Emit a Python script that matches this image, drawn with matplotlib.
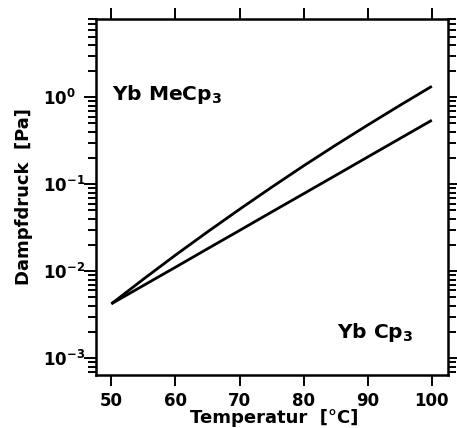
import numpy as np
import matplotlib
matplotlib.use("Agg")
import matplotlib.pyplot as plt
from matplotlib.ticker import LogLocator, FixedLocator, NullFormatter

# temperature grid [°C] and vapour pressures [Pa]
temp = [50, 55, 60, 65, 70, 75, 80, 85, 90, 95, 100]
p_mecp3 = [0.00421, 0.00809, 0.0153, 0.0283, 0.0515, 0.0923, 0.163, 0.282, 0.480, 0.807, 1.34]
p_cp3 = [0.00421, 0.00684, 0.0111, 0.0181, 0.0294, 0.0479, 0.0778, 0.1265, 0.206, 0.335, 0.545]
x_ticks = [50, 60, 70, 80, 90, 100]

plt.rcParams["font.family"] = ["DejaVu Sans"]
plt.rcParams["font.weight"] = "bold"
plt.rcParams["axes.labelweight"] = "bold"
plt.rcParams["mathtext.fontset"] = "dejavusans"
plt.rcParams["mathtext.default"] = "bf"

fig = plt.figure(figsize=(4.57, 4.28), dpi=100)
ax = fig.add_axes([0.210, 0.124, 0.770, 0.832])

ax.plot(temp, p_mecp3, color="black", lw=2.0, solid_capstyle="butt")
ax.plot(temp, p_cp3, color="black", lw=2.0, solid_capstyle="butt")

ax.set_yscale("log")
ax.set_xlim(47.6, 102.5)
ax.set_ylim(6.4e-4, 8.0)

ax.xaxis.set_major_locator(FixedLocator(x_ticks))
ax.yaxis.set_major_locator(LogLocator(base=10, numticks=10))
ax.yaxis.set_minor_locator(LogLocator(base=10, subs=np.arange(2, 10), numticks=10))
ax.yaxis.set_minor_formatter(NullFormatter())

for s in ax.spines.values():
    s.set_linewidth(1.8)

ax.tick_params(axis="both", which="both", direction="out", width=1.4,
               top=True, right=True, labeltop=False, labelright=False)
ax.tick_params(axis="x", which="major", length=8, pad=4, labelsize=12)
ax.tick_params(axis="y", which="major", length=9, pad=29, labelsize=12)
ax.tick_params(axis="y", which="minor", length=6)
for lab in ax.get_yticklabels():
    lab.set_horizontalalignment("left")

ax.set_xlabel("Temperatur  [°C]", fontsize=13)
ax.set_ylabel("Dampfdruck  [Pa]", fontsize=13)
ax.xaxis.set_label_coords(0.506, -0.095)
ax.yaxis.set_label_coords(-0.18, 0.5)

ax.text(0.045, 0.787, "Yb MeCp$_3$", transform=ax.transAxes, fontsize=14.5,
        ha="left", va="center")
ax.text(0.685, 0.118, "Yb Cp$_3$", transform=ax.transAxes, fontsize=14.5,
        ha="left", va="center")

fig.savefig("out.png", dpi=100)
